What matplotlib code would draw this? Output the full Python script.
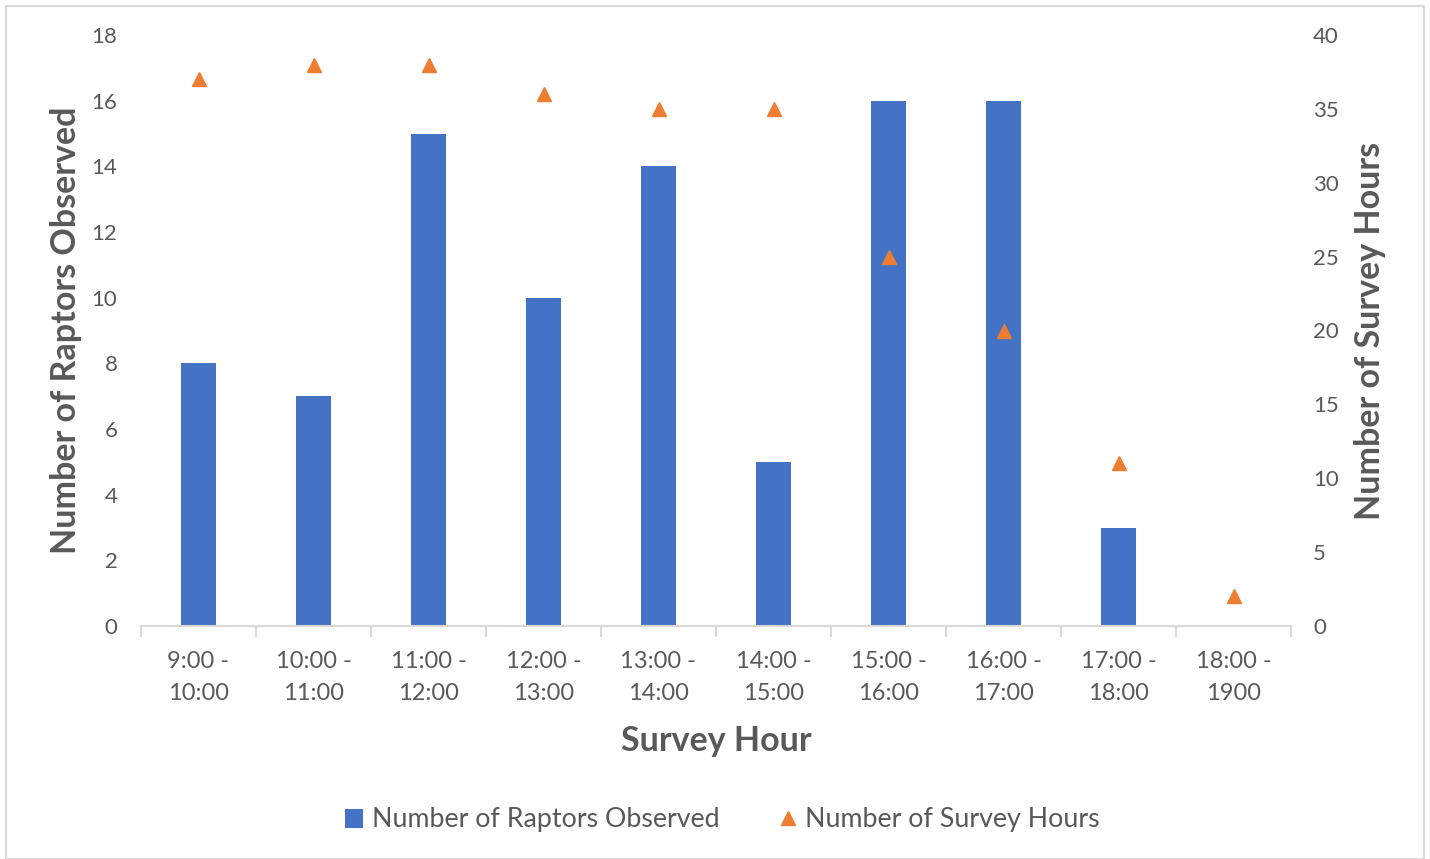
import matplotlib.pyplot as plt
import numpy as np
from matplotlib.patches import Rectangle

plt.rcParams['font.family'] = ['Lato', 'DejaVu Sans']

hours = ["9:00 -\n10:00", "10:00 -\n11:00", "11:00 -\n12:00", "12:00 -\n13:00",
         "13:00 -\n14:00", "14:00 -\n15:00", "15:00 -\n16:00", "16:00 -\n17:00",
         "17:00 -\n18:00", "18:00 -\n1900"]
raptors = [8, 7, 15, 10, 14, 5, 16, 16, 3, 0]
survey_hours = [37, 38, 38, 36, 35, 35, 25, 20, 11, 2]

grey = '#595959'
blue = '#4472C4'
orange = '#ED7D31'

fig = plt.figure(figsize=(14.3, 8.59), dpi=100)
ax = fig.add_axes([141 / 1430, 1 - 626 / 859, 1150 / 1430, 591 / 859])
ax2 = ax.twinx()

x = np.arange(len(hours))
ax.bar(x, raptors, width=0.31, color=blue, label='Number of Raptors Observed', zorder=2)
ax2.plot(x, survey_hours, linestyle='none', marker='^', markersize=10,
         color=orange, label='Number of Survey Hours', zorder=3)

ax.set_xlim(-0.5, len(hours) - 0.5)
ax.set_ylim(0, 18)
ax.set_yticks(range(0, 19, 2))
ax2.set_ylim(0, 40)
ax2.set_yticks(range(0, 41, 5))

ax.set_xticks(x)
ax.set_xticklabels(hours, fontsize=17, color=grey, linespacing=1.65)
ax.set_xticks(np.arange(-0.5, len(hours)), minor=True)
ax.tick_params(axis='x', which='major', length=0, pad=18)
ax.tick_params(axis='x', which='minor', length=8, color='#d9d9d9', width=1.5)

for a in (ax, ax2):
    for s in a.spines.values():
        s.set_visible(False)
    a.tick_params(axis='y', length=0, labelsize=16, labelcolor=grey)
ax.tick_params(axis='y', pad=17)
ax2.tick_params(axis='y', pad=16)
ax.spines['bottom'].set_visible(True)
ax.spines['bottom'].set_color('#d9d9d9')
ax.spines['bottom'].set_linewidth(1.5)

ax.set_xlabel('Survey Hour', fontsize=24.5, fontweight='bold', color=grey, labelpad=15)
ax.set_ylabel('Number of Raptors Observed', fontsize=24.5, fontweight='bold', color=grey, labelpad=7)
ax2.set_ylabel('Number of Survey Hours', fontsize=24.5, fontweight='bold', color=grey, labelpad=11)

h1, l1 = ax.get_legend_handles_labels()
h2, l2 = ax2.get_legend_handles_labels()
fig.legend(h1 + h2, l1 + l2, loc='center', bbox_to_anchor=(0.505, 1 - 820 / 859),
           ncol=2, frameon=False, fontsize=19.3, labelcolor=grey,
           handlelength=0.7, handletextpad=0.3, columnspacing=2.2)

fig.patches.append(Rectangle((6 / 1430, 0), 1418 / 1430, 1 - 6 / 859,
                             transform=fig.transFigure, fill=False,
                             edgecolor='#d9d9d9', linewidth=1.5))

fig.savefig('out.png', dpi=100)
